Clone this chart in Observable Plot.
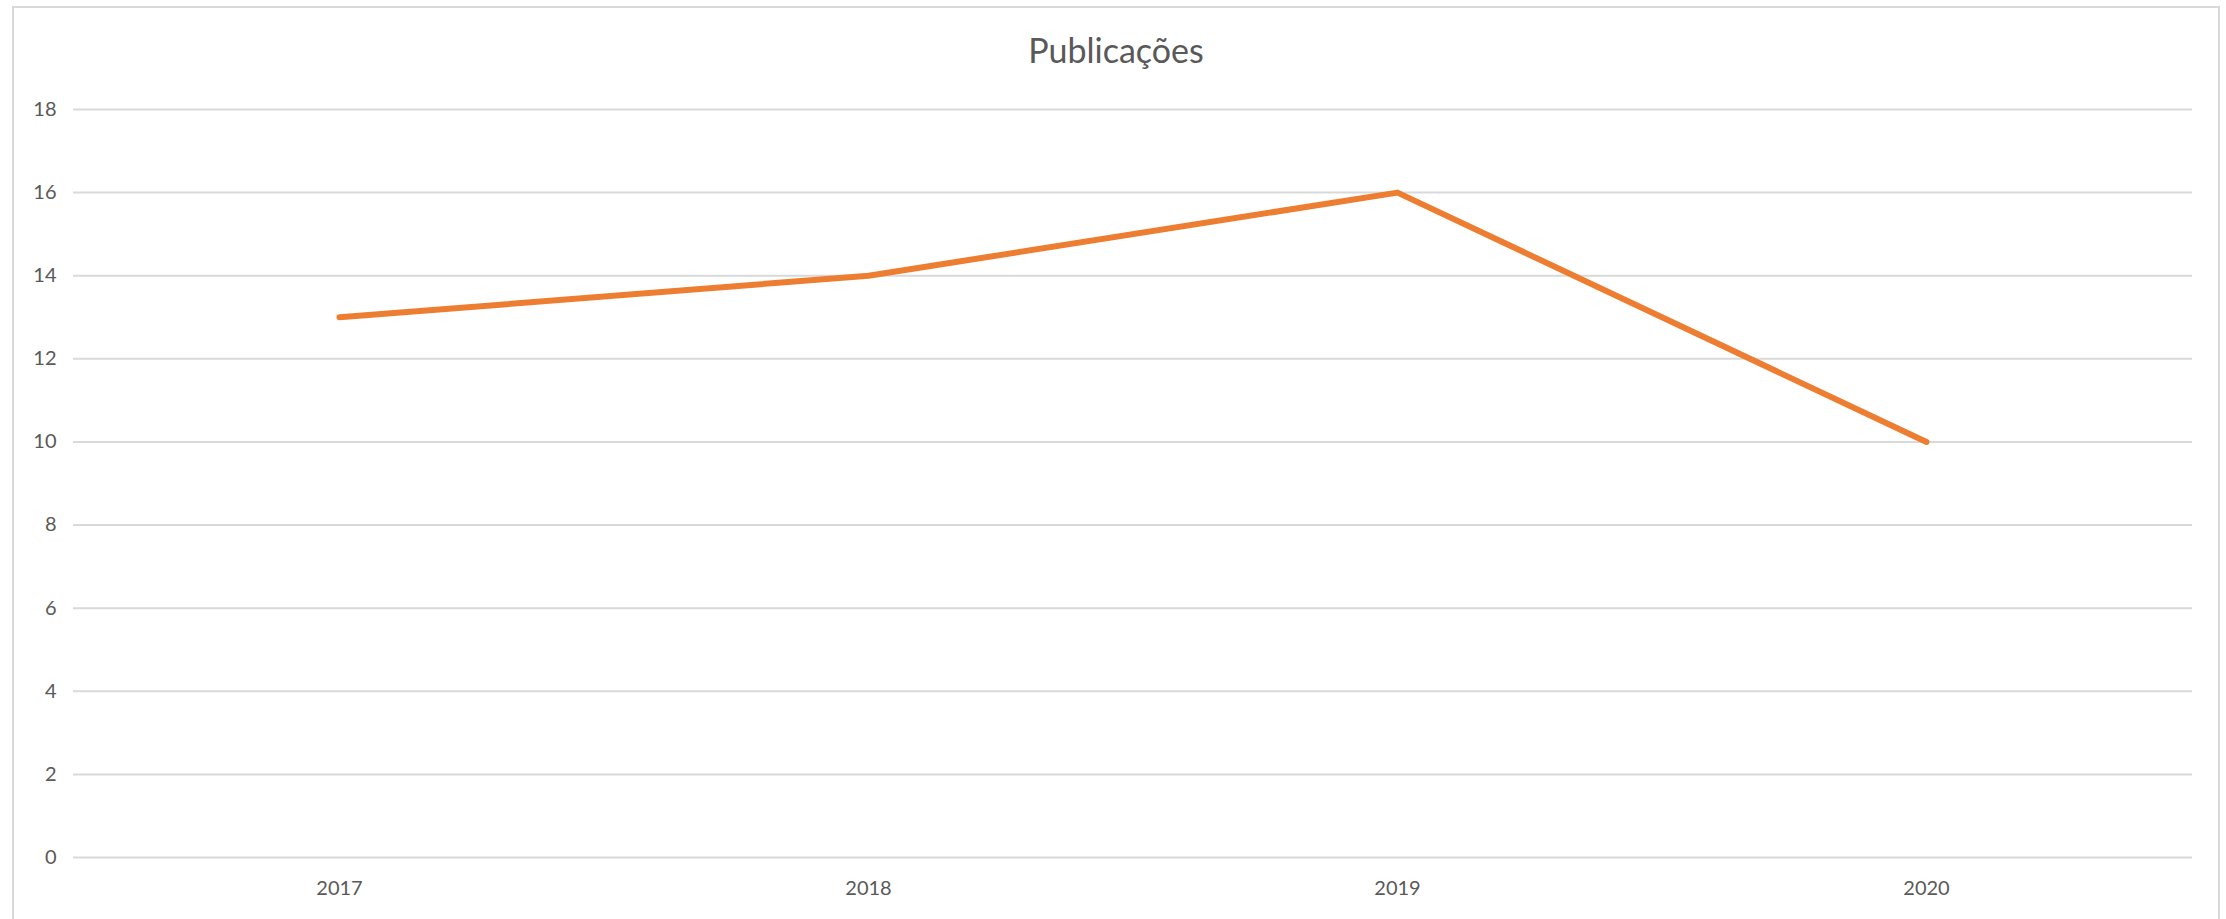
<!DOCTYPE html>
<html>
<head>
<meta charset="utf-8">
<script src="https://cdn.jsdelivr.net/npm/d3@7"></script>
<script src="https://cdn.jsdelivr.net/npm/@observablehq/plot@0.6"></script>
<style>
  html, body { margin: 0; padding: 0; background: #fff; }
  body { position: relative; width: 2226px; height: 919px; overflow: hidden; font-family: Lato, "Open Sans", sans-serif; }
  #frame { position: absolute; left: 12px; top: 6px; width: 2208px; height: 1000px; border: 2px solid #d9d9d9; box-sizing: border-box; z-index: 2; pointer-events: none; }
  #title { height: 80px; line-height: 100px; text-align: center; font-size: 34px; color: #595959; padding-left: 6px; box-sizing: border-box; }
  #chart svg { display: block; }
</style>
</head>
<body>
<div id="frame"></div>
<div id="title">Publicações</div>
<div id="chart"></div>
<script>
const years = ["2017", "2018", "2019", "2020"];
const publications = [13, 14, 16, 10];
const yTicks = [0, 2, 4, 6, 8, 10, 12, 14, 16, 18];

const data = years.map((y, i) => ({year: y, value: publications[i]}));

const chart = Plot.plot({
  width: 2226,
  height: 839,
  marginLeft: 73,
  marginRight: 34,
  marginTop: 29,
  marginBottom: 62,
  style: {background: "transparent", fontFamily: "Lato, 'Open Sans', sans-serif", fontSize: "20px", color: "#595959"},
  x: {type: "point", domain: years, padding: 0.5, label: null},
  y: {domain: [0, 18], label: null},
  marks: [
    Plot.ruleY(yTicks, {stroke: "#d9d9d9", strokeWidth: 2}),
    Plot.axisY({ticks: yTicks, tickSize: 0, tickPadding: 17, label: null, fill: "#595959", fontSize: 20}),
    Plot.axisX({tickSize: 0, tickPadding: 23, label: null, fill: "#595959", fontSize: 20}),
    Plot.line(data, {x: "year", y: "value", stroke: "#ED7D31", strokeWidth: 6, strokeLinecap: "round", strokeLinejoin: "round"})
  ]
});
document.getElementById("chart").appendChild(chart);
</script>
</body>
</html>
